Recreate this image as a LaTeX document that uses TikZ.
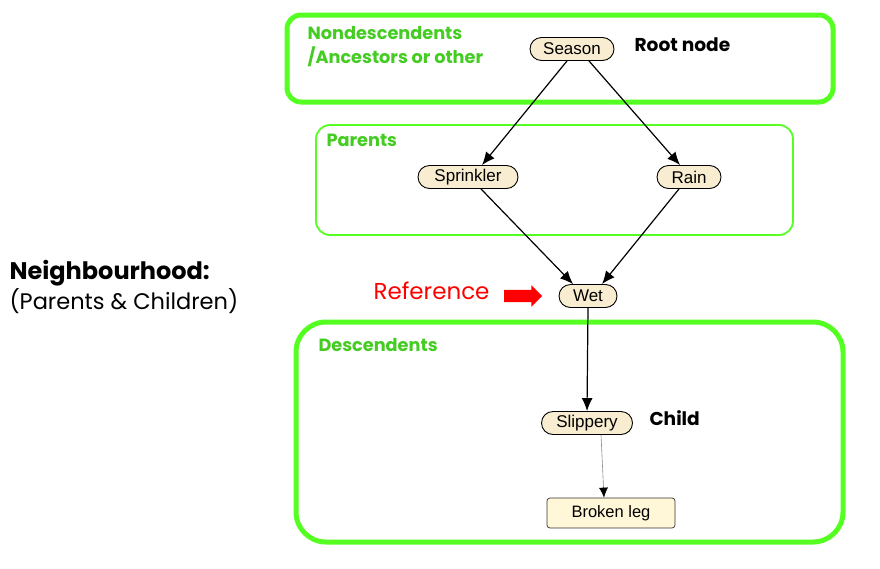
\documentclass[tikz,border=0pt]{standalone}
\usepackage{fontspec}
\setmainfont{Liberation Sans}
\newfontfamily\geo{Poppins}
\usetikzlibrary{shapes,shapes.misc,shapes.arrows,arrows.meta,positioning}
\definecolor{boxgreen}{HTML}{55FF22}
\definecolor{labgreen}{HTML}{44CC22}
\definecolor{nodefill}{HTML}{F8EDD0}
\definecolor{leaffill}{HTML}{FFF7D8}
\tikzset{
  var/.style={rounded rectangle, draw=black, fill=nodefill, line width=0.9pt,
    minimum height=23pt, minimum width=#1, inner xsep=4pt,
    font=\fontsize{17}{17}\selectfont},
  leaf/.style={rectangle, rounded corners=3pt, draw=black!80, fill=leaffill,
    line width=0.7pt, minimum height=30pt, minimum width=128pt,
    font=\fontsize{16.5}{16.5}\selectfont},
  group/.style={draw=boxgreen, rounded corners=#1},
  grouplab/.style={anchor=west, text=labgreen, font=\geo\fontsize{17.7}{17.7}\selectfont\bfseries},
  note/.style={anchor=west, font=\geo\fontsize{18.6}{18.6}\selectfont\bfseries},
  edge/.style={-{Latex[length=13pt,width=11pt]}, line width=1.2pt},
}
\begin{document}
\begin{tikzpicture}[x=1pt,y=-1pt]
\useasboundingbox (0,0) rectangle (880,568);

% groups
\draw[group=14pt, line width=5pt] (287,15) rectangle (833,102);
\draw[group=14pt, line width=1.8pt] (316,125) rectangle (793,235);
\draw[group=30pt, line width=5pt] (296,322) rectangle (843,542);

\node[grouplab] (nondesc) at (304,33) {Nondescendents};
\node[grouplab] (ancest) at (304,57) {/Ancestors or other};
\node[grouplab] (parlab) at (323,140) {Parents};
\node[grouplab] (desclab) at (315,345) {Descendents};

% variables
\node[var=92pt] (season) at (572,49) {Season};
\node[var=108pt] (sprinkler) at (468,177) {Sprinkler};
\node[var=72pt] (rain) at (689,177) {Rain};
\node[var=66pt] (wet) at (588,296) {Wet};
\node[var=99pt] (slippery) at (587,423) {Slippery};
\node[leaf] (broken) at (611,513) {Broken leg};

\node[note] (root) at (631,45) {Root node};
\node[note] (child) at (646,418) {Child};

\node[anchor=east, text=red, font=\geo\fontsize{23}{23}\selectfont] (ref) at (493,291) {Reference};
\node[single arrow, fill=red, minimum height=38pt, minimum width=21pt,
  single arrow head extend=4.5pt, inner xsep=2pt, inner ysep=6pt] (refarrow) at (520,296) {};

\node[anchor=west, font=\geo\fontsize{24}{24}\selectfont\bfseries] (neigh) at (6,273) {Neighbourhood:};
\node[anchor=west, font=\geo\fontsize{22.5}{22.5}\selectfont] (neighsub) at (6,301) {(Parents \& Children)};

% edges
\draw[edge] ([xshift=-5pt]season.south) -- ([xshift=14pt]sprinkler.north);
\draw[edge] ([xshift=17pt]season.south) -- ([xshift=-9pt]rain.north);
\draw[edge] ([xshift=13pt]sprinkler.south) -- ([xshift=-15pt]wet.north);
\draw[edge] ([xshift=-10pt]rain.south) -- ([xshift=14pt]wet.north);
\draw[edge] (wet.south) -- (slippery.north);
\draw[-{Latex[length=10pt,width=9pt,black]}, black!45, line width=0.6pt] ([xshift=14pt]slippery.south) -- ([xshift=-7pt]broken.north);
\end{tikzpicture}
\end{document}
